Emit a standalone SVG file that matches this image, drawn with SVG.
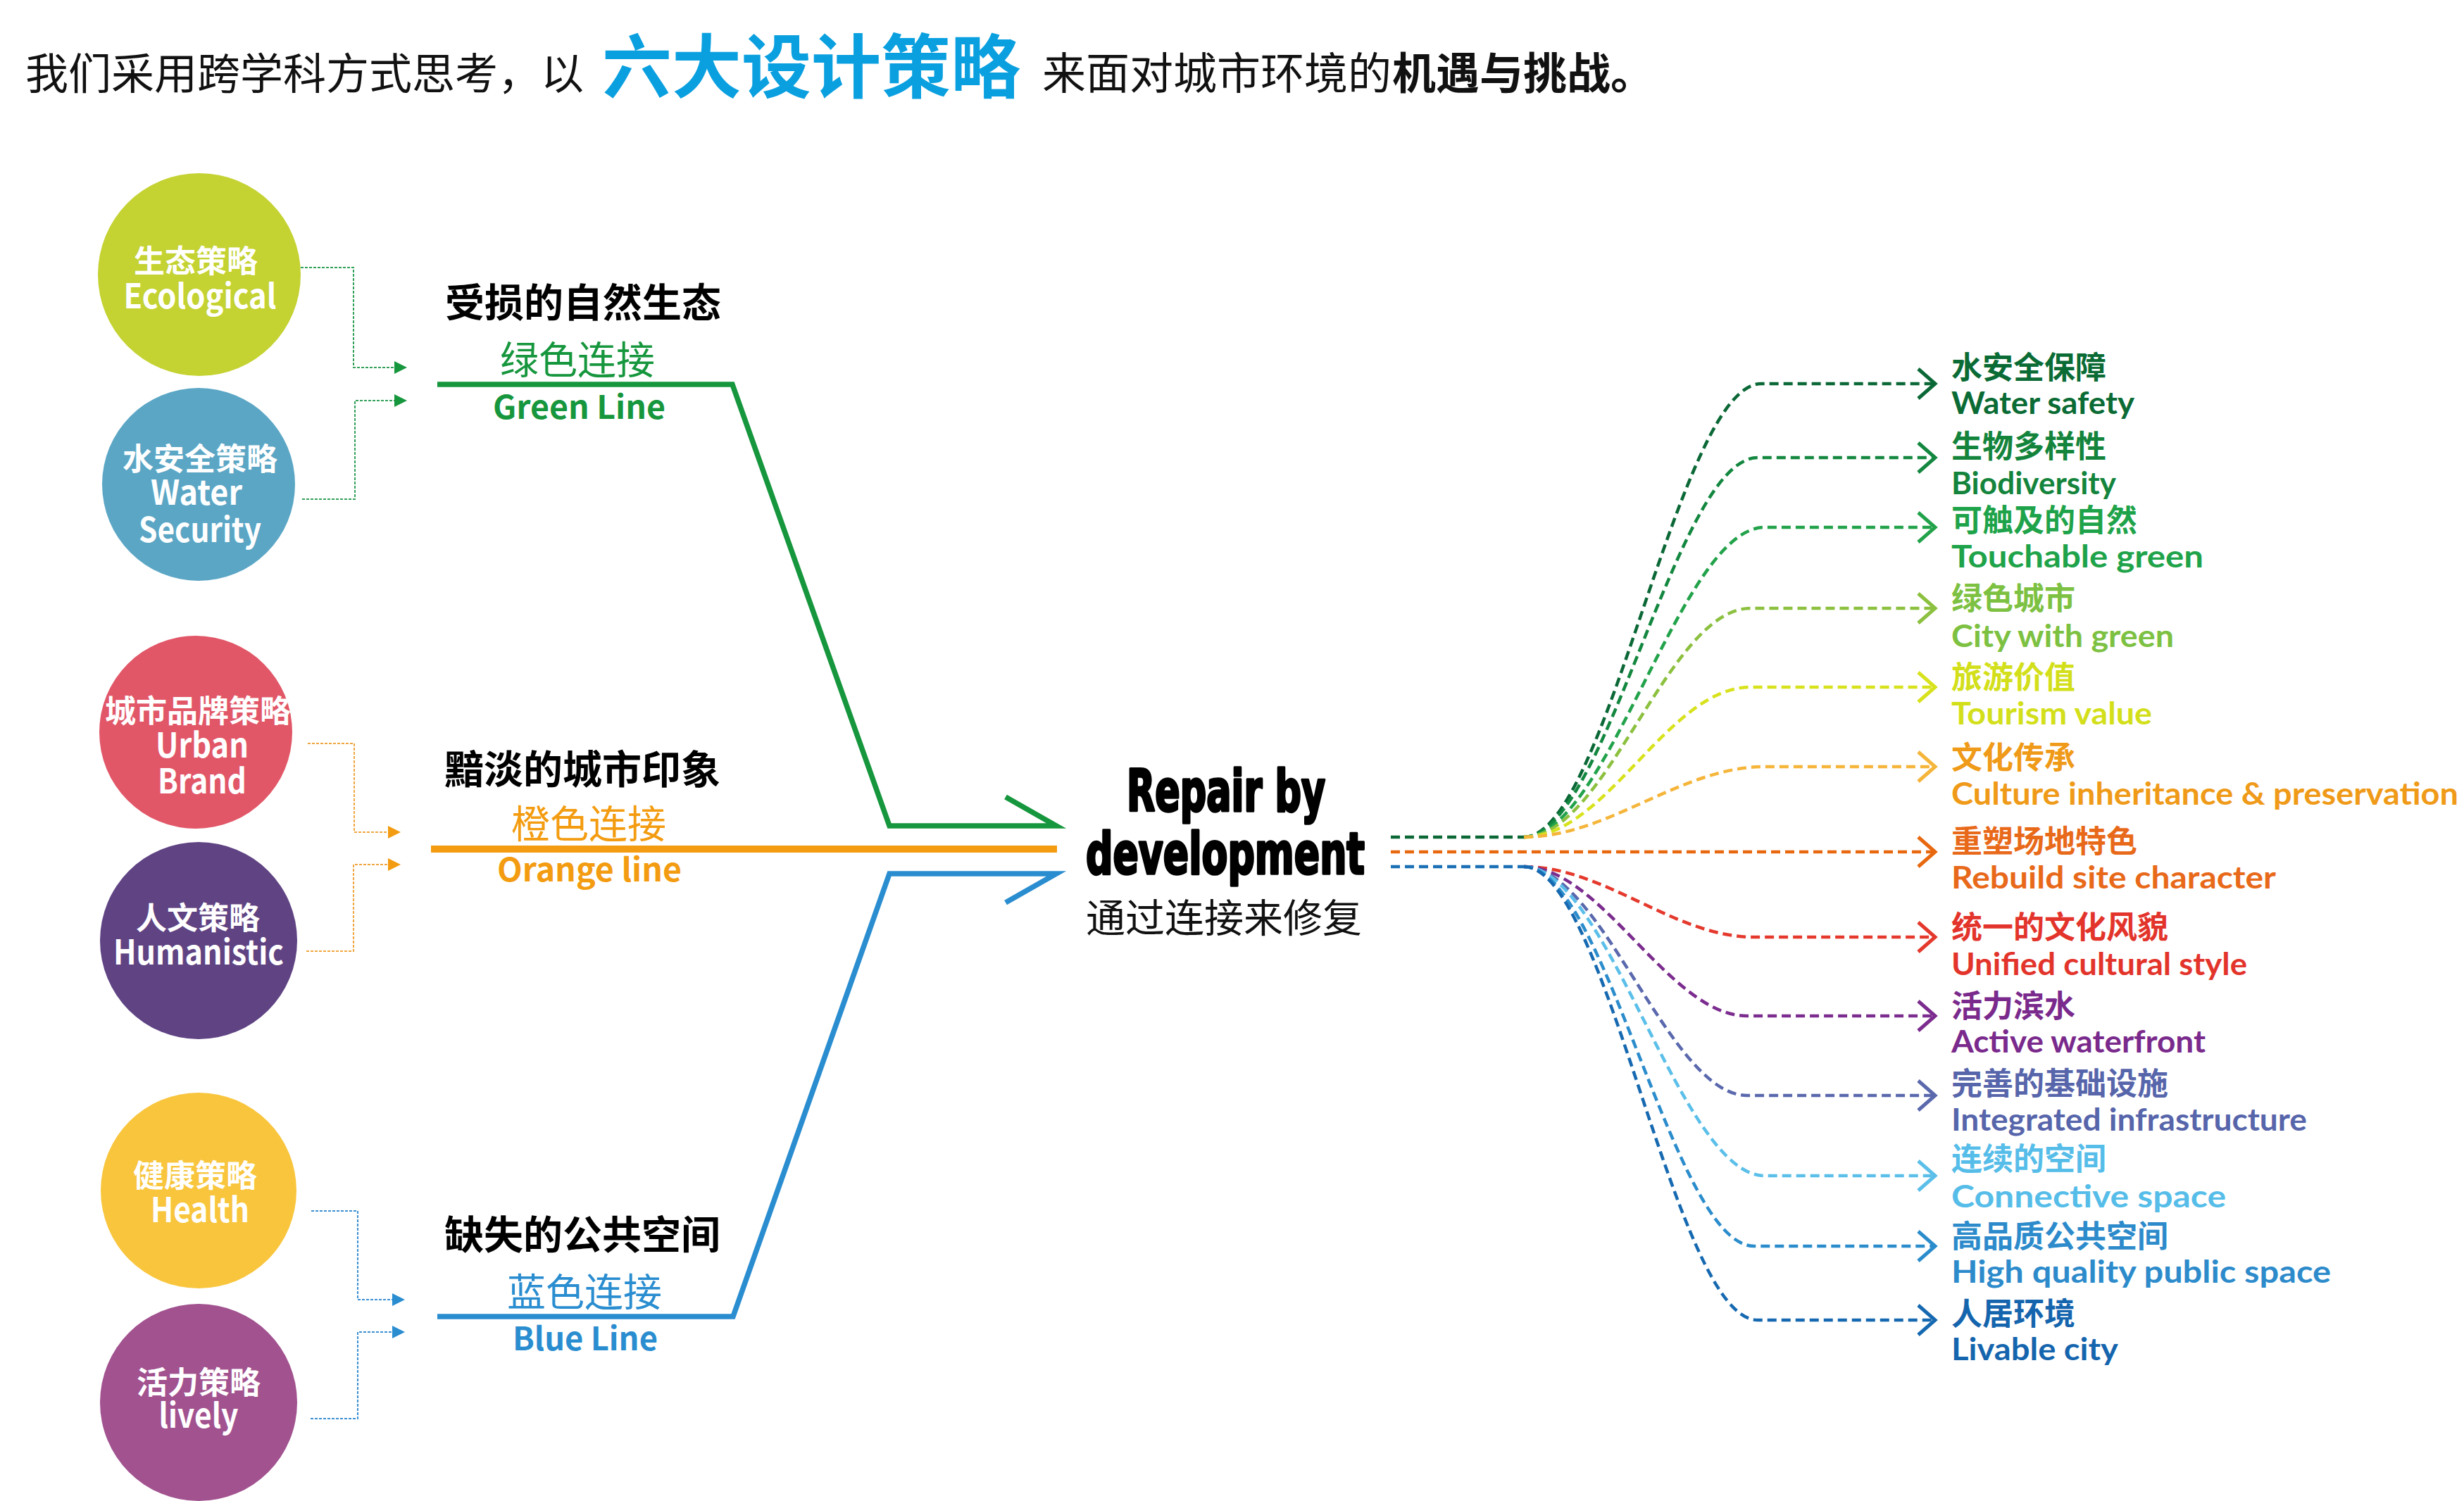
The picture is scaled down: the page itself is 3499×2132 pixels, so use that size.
<svg xmlns="http://www.w3.org/2000/svg" xmlns:xlink="http://www.w3.org/1999/xlink" width="3499" height="2132" viewBox="0 0 3499 2132">
<style>
  .cjk { font-family: "Noto Sans CJK SC", "Noto Sans", sans-serif; }
  .b { font-weight: 700; }
  .ct { fill: #ffffff; font-family: "Noto Sans CJK SC", "Noto Sans", sans-serif; font-weight: 700; text-anchor: middle; }
  .ct-zh { font-size: 44px; }
  .ct-en { font-size: 48px; }
  .head { font-family: "Noto Sans CJK SC", sans-serif; font-weight: 700; font-size: 56px; fill: #000; }
  .sub { font-family: "Noto Sans CJK SC", sans-serif; font-weight: 400; font-size: 55px; }
  .sube { font-family: "Noto Sans CJK SC", sans-serif; font-weight: 700; font-size: 46px; }
  .rz { font-family: "Noto Sans CJK SC", sans-serif; font-weight: 700; font-size: 44px; }
  .re { font-family: "Lato", "Noto Sans", sans-serif; font-weight: 700; font-size: 43px; }
  .big { font-family: "DejaVu Sans Condensed", "DejaVu Sans", sans-serif; font-weight: 700; font-size: 82px; fill: #000; stroke: #000; stroke-width: 3.5; stroke-linejoin: round; }
  .dot { fill: none; stroke-width: 2; stroke-dasharray: 4 2; }
  .main { fill: none; stroke-linejoin: miter; stroke-miterlimit: 10; }
  .dash { fill: none; stroke-width: 4.5; stroke-dasharray: 13 7; }
  .chev { fill: none; stroke-width: 5; stroke-linejoin: miter; stroke-linecap: butt; }
</style>
<defs>
  <path id="chev" d="M-24,-21 L0,0 L-24,21"/>
  <path id="tri" d="M0,0 L-18,-9 L-18,9 Z"/>
</defs>
<rect width="3499" height="2132" fill="#ffffff"/>

<g id="title">
  <text class="cjk" x="36" y="127" font-size="61" fill="#111">我们采用跨学科方式思考，以</text>
  <text class="cjk b" x="855" y="131" font-size="99" fill="#0aa0e0">六大设计策略</text>
  <text class="cjk" x="1480" y="127" font-size="62" fill="#111">来面对城市环境的</text>
  <text class="cjk b" x="1977" y="127" font-size="62" fill="#111">机遇与挑战。</text>
</g>

<g id="node-ecological">
  <circle cx="283" cy="390" r="144" fill="#c4d232"/>
  <text class="ct"><tspan class="ct-zh" x="278" y="387">生态策略</tspan><tspan class="ct-en" x="284" y="438" textLength="217" lengthAdjust="spacingAndGlyphs">Ecological</tspan></text>
</g>
<g id="node-water">
  <circle cx="282" cy="688" r="137" fill="#5ba6c5"/>
  <text class="ct"><tspan class="ct-zh" x="284" y="668">水安全策略</tspan><tspan class="ct-en" x="279" y="717" textLength="130" lengthAdjust="spacingAndGlyphs">Water</tspan><tspan class="ct-en" x="284" y="770" textLength="174" lengthAdjust="spacingAndGlyphs">Security</tspan></text>
</g>
<g id="node-urban">
  <circle cx="278" cy="1040" r="137" fill="#e15768"/>
  <text class="ct"><tspan class="ct-zh" x="281" y="1026">城市品牌策略</tspan><tspan class="ct-en" x="287" y="1076" textLength="132" lengthAdjust="spacingAndGlyphs">Urban</tspan><tspan class="ct-en" x="287" y="1127" textLength="126" lengthAdjust="spacingAndGlyphs">Brand</tspan></text>
</g>
<g id="node-humanistic">
  <circle cx="282" cy="1336" r="140" fill="#5f4383"/>
  <text class="ct"><tspan class="ct-zh" x="281" y="1320">人文策略</tspan><tspan class="ct-en" x="282" y="1370" textLength="242" lengthAdjust="spacingAndGlyphs">Humanistic</tspan></text>
</g>
<g id="node-health">
  <circle cx="282" cy="1691" r="139" fill="#f8c53d"/>
  <text class="ct"><tspan class="ct-zh" x="277" y="1686">健康策略</tspan><tspan class="ct-en" x="284" y="1736" textLength="140" lengthAdjust="spacingAndGlyphs">Health</tspan></text>
</g>
<g id="node-lively">
  <circle cx="282" cy="1992" r="140" fill="#a1528f"/>
  <text class="ct"><tspan class="ct-zh" x="282" y="1980">活力策略</tspan><tspan class="ct-en" x="282" y="2028" textLength="113" lengthAdjust="spacingAndGlyphs">lively</tspan></text>
</g>

<g id="node-green-line">
  <text class="head" x="632" y="450">受损的自然生态</text>
  <text class="sub" x="710" y="531" fill="#16963d">绿色连接</text>
  <text class="sube" x="700" y="595" fill="#16963d" textLength="245" lengthAdjust="spacingAndGlyphs">Green Line</text>
</g>
<g id="node-orange-line">
  <text class="head" x="631" y="1113">黯淡的城市印象</text>
  <text class="sub" x="726" y="1190" fill="#f39c11">橙色连接</text>
  <text class="sube" x="706" y="1252" fill="#f39c11" textLength="262" lengthAdjust="spacingAndGlyphs">Orange line</text>
</g>
<g id="node-blue-line">
  <text class="head" x="631" y="1774">缺失的公共空间</text>
  <text class="sub" x="720" y="1855" fill="#2a8dd0">蓝色连接</text>
  <text class="sube" x="728" y="1918" fill="#2a8dd0" textLength="206" lengthAdjust="spacingAndGlyphs">Blue Line</text>
</g>

<g id="node-center">
  <text class="big" x="1600" y="1152" textLength="282" lengthAdjust="spacingAndGlyphs">Repair by</text>
  <text class="big" x="1542" y="1241" textLength="396" lengthAdjust="spacingAndGlyphs">development</text>
  <text class="cjk" x="1542" y="1324" font-size="56" fill="#111">通过连接来修复</text>
</g>

<g id="node-outcomes">
  <text class="rz" x="2771" y="538" fill="#0a6b35">水安全保障</text>
  <text class="re" x="2771" y="588" fill="#0a6b35" textLength="260" lengthAdjust="spacingAndGlyphs">Water safety</text>
  <text class="rz" x="2771" y="650" fill="#14843c">生物多样性</text>
  <text class="re" x="2771" y="702" fill="#14843c" textLength="234" lengthAdjust="spacingAndGlyphs">Biodiversity</text>
  <text class="rz" x="2771" y="755" fill="#1fa34a">可触及的自然</text>
  <text class="re" x="2771" y="806" fill="#1fa34a" textLength="358" lengthAdjust="spacingAndGlyphs">Touchable green</text>
  <text class="rz" x="2771" y="866" fill="#7dc142">绿色城市</text>
  <text class="re" x="2771" y="919" fill="#7dc142" textLength="316" lengthAdjust="spacingAndGlyphs">City with green</text>
  <text class="rz" x="2771" y="978" fill="#d3df1a">旅游价值</text>
  <text class="re" x="2771" y="1029" fill="#d3df1a" textLength="285" lengthAdjust="spacingAndGlyphs">Tourism value</text>
  <text class="rz" x="2771" y="1092" fill="#ef9a18">文化传承</text>
  <text class="re" x="2771" y="1143" fill="#ef9a18" textLength="720" lengthAdjust="spacingAndGlyphs">Culture inheritance &amp; preservation</text>
  <text class="rz" x="2771" y="1211" fill="#e8691a">重塑场地特色</text>
  <text class="re" x="2771" y="1262" fill="#e8691a" textLength="461" lengthAdjust="spacingAndGlyphs">Rebuild site character</text>
  <text class="rz" x="2771" y="1333" fill="#e3342c">统一的文化风貌</text>
  <text class="re" x="2771" y="1385" fill="#e3342c" textLength="420" lengthAdjust="spacingAndGlyphs">Unified cultural style</text>
  <text class="rz" x="2771" y="1445" fill="#7a2a8c">活力滨水</text>
  <text class="re" x="2771" y="1495" fill="#7a2a8c" textLength="361" lengthAdjust="spacingAndGlyphs">Active waterfront</text>
  <text class="rz" x="2771" y="1555" fill="#5765ab">完善的基础设施</text>
  <text class="re" x="2771" y="1606" fill="#5765ab" textLength="505" lengthAdjust="spacingAndGlyphs">Integrated infrastructure</text>
  <text class="rz" x="2771" y="1662" fill="#56bde9">连续的空间</text>
  <text class="re" x="2771" y="1715" fill="#56bde9" textLength="390" lengthAdjust="spacingAndGlyphs">Connective space</text>
  <text class="rz" x="2771" y="1772" fill="#2d8bcb">高品质公共空间</text>
  <text class="re" x="2771" y="1822" fill="#2d8bcb" textLength="539" lengthAdjust="spacingAndGlyphs">High quality public space</text>
  <text class="rz" x="2771" y="1882" fill="#1565ae">人居环境</text>
  <text class="re" x="2771" y="1932" fill="#1565ae" textLength="237" lengthAdjust="spacingAndGlyphs">Livable city</text>
</g>

<g id="connectors">
  <g stroke="#33a05a" fill="#16963d">
    <path class="dot" d="M427,380 H502 V522 H562"/>
    <path class="dot" d="M429,709 H504 V569 H562"/>
    <use xlink:href="#tri" x="578" y="522" stroke="none"/>
    <use xlink:href="#tri" x="578" y="569" stroke="none"/>
  </g>
  <g stroke="#f0a640" fill="#f39c11">
    <path class="dot" d="M437,1056 H503 V1182 H553"/>
    <path class="dot" d="M435,1351 H502 V1228 H553"/>
    <use xlink:href="#tri" x="569" y="1182" stroke="none"/>
    <use xlink:href="#tri" x="569" y="1228" stroke="none"/>
  </g>
  <g stroke="#3b8fd2" fill="#2a8dd0">
    <path class="dot" d="M442,1720 H508 V1846 H559"/>
    <path class="dot" d="M441,2015 H508 V1892 H559"/>
    <use xlink:href="#tri" x="575" y="1846" stroke="none"/>
    <use xlink:href="#tri" x="575" y="1892" stroke="none"/>
  </g>

  <path class="main" d="M621,546 H1040 L1263,1173 H1500 L1428,1132" stroke="#16963d" stroke-width="7.5"/>
  <path class="main" d="M612,1206 H1501" stroke="#f39c11" stroke-width="10"/>
  <path class="main" d="M621,1870 H1041 L1263,1241 H1500 L1428,1282" stroke="#2a8dd0" stroke-width="7.5"/>

  <path class="dash" d="M1975,1189 H2164" stroke="#0b6836"/>
  <path class="dash" d="M1975,1231 H2164" stroke="#1a6fb5"/>

  <path class="dash" stroke="#0b6836" d="M2164,1189 C2282,1189 2383,545 2501,545 H2745"/>
  <path class="dash" stroke="#13873f" d="M2164,1189 C2280,1189 2380,650 2496,650 H2745"/>
  <path class="dash" stroke="#22a24a" d="M2164,1189 C2284,1189 2386,749 2506,749 H2745"/>
  <path class="dash" stroke="#8cc03f" d="M2164,1189 C2282,1189 2368,864 2486,864 H2745"/>
  <path class="dash" stroke="#d8e21c" d="M2164,1189 C2282,1189 2368,976 2486,976 H2745"/>
  <path class="dash" stroke="#f5b53a" d="M2164,1189 C2284,1189 2386,1089 2506,1089 H2745"/>
  <path class="dash" stroke="#e8680f" d="M1975,1210 H2745"/>
  <path class="dash" stroke="#e4392c" d="M2164,1231 C2280,1231 2376,1331 2491,1331 H2745"/>
  <path class="dash" stroke="#7b2c8e" d="M2164,1231 C2275,1231 2370,1443 2481,1443 H2745"/>
  <path class="dash" stroke="#5a68ad" d="M2164,1231 C2275,1231 2370,1556 2481,1556 H2745"/>
  <path class="dash" stroke="#5bbfe9" d="M2164,1231 C2284,1231 2386,1670 2506,1670 H2745"/>
  <path class="dash" stroke="#2b8ccc" d="M2164,1231 C2280,1231 2376,1770 2491,1770 H2745"/>
  <path class="dash" stroke="#1669b0" d="M2164,1231 C2282,1231 2378,1875 2496,1875 H2745"/>

  <use xlink:href="#chev" class="chev" x="2748" y="545" stroke="#0b6836"/>
  <use xlink:href="#chev" class="chev" x="2748" y="650" stroke="#13873f"/>
  <use xlink:href="#chev" class="chev" x="2748" y="749" stroke="#22a24a"/>
  <use xlink:href="#chev" class="chev" x="2748" y="864" stroke="#8cc03f"/>
  <use xlink:href="#chev" class="chev" x="2748" y="976" stroke="#d8e21c"/>
  <use xlink:href="#chev" class="chev" x="2748" y="1089" stroke="#f5b53a"/>
  <use xlink:href="#chev" class="chev" x="2748" y="1210" stroke="#e8680f"/>
  <use xlink:href="#chev" class="chev" x="2748" y="1331" stroke="#e4392c"/>
  <use xlink:href="#chev" class="chev" x="2748" y="1443" stroke="#7b2c8e"/>
  <use xlink:href="#chev" class="chev" x="2748" y="1556" stroke="#5a68ad"/>
  <use xlink:href="#chev" class="chev" x="2748" y="1670" stroke="#5bbfe9"/>
  <use xlink:href="#chev" class="chev" x="2748" y="1770" stroke="#2b8ccc"/>
  <use xlink:href="#chev" class="chev" x="2748" y="1875" stroke="#1669b0"/>
</g>
</svg>
